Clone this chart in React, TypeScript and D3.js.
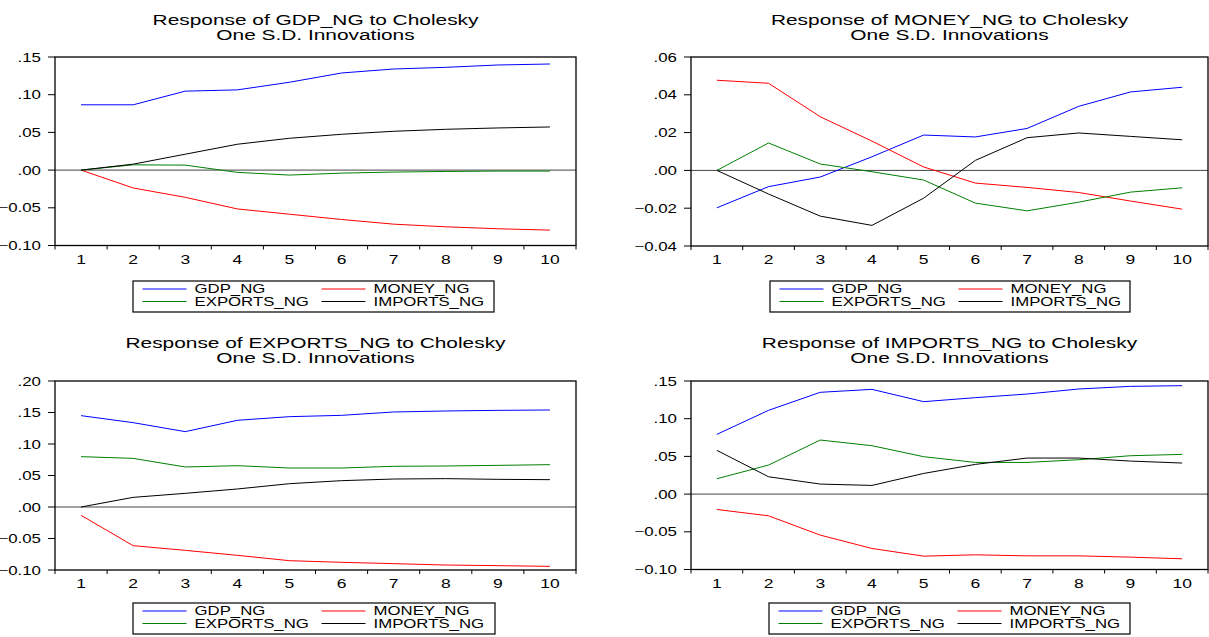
import React from "react";
import * as d3 from "d3";

// ---------- data ----------
const periods = [1, 2, 3, 4, 5, 6, 7, 8, 9, 10];
const seriesNames = ["GDP_NG", "MONEY_NG", "EXPORTS_NG", "IMPORTS_NG"];
const seriesColors = ["#0000ff", "#ff0000", "#008000", "#000000"];

// Response of GDP_NG
const gdpResp_GDP = [0.0866, 0.0866, 0.1047, 0.1064, 0.1165, 0.1288, 0.1341, 0.1363, 0.1394, 0.1407];
const gdpResp_MONEY = [0.0, -0.0237, -0.0361, -0.0515, -0.0585, -0.0655, -0.0717, -0.0752, -0.0778, -0.0796];
const gdpResp_EXPORTS = [0.0, 0.007, 0.0066, -0.003, -0.0066, -0.004, -0.0026, -0.0018, -0.0013, -0.0013];
const gdpResp_IMPORTS = [0.0, 0.0079, 0.0211, 0.0343, 0.0422, 0.0475, 0.0515, 0.0541, 0.0559, 0.0572];

// Response of MONEY_NG
const moneyResp_GDP = [-0.0198, -0.0086, -0.0035, 0.0072, 0.0187, 0.0177, 0.0222, 0.0339, 0.0415, 0.044];
const moneyResp_MONEY = [0.0477, 0.0461, 0.0284, 0.0155, 0.0018, -0.0067, -0.009, -0.0117, -0.0162, -0.0205];
const moneyResp_EXPORTS = [0.0, 0.0145, 0.0034, -0.0007, -0.0051, -0.0173, -0.0214, -0.0168, -0.0115, -0.0092];
const moneyResp_IMPORTS = [0.0, -0.0125, -0.0242, -0.0291, -0.0147, 0.0053, 0.0173, 0.0198, 0.018, 0.0162];

// Response of EXPORTS_NG
const exportsResp_GDP = [0.145, 0.1339, 0.1196, 0.1376, 0.1434, 0.1455, 0.1508, 0.1524, 0.1534, 0.154];
const exportsResp_MONEY = [-0.0132, -0.0614, -0.0688, -0.0767, -0.0852, -0.0878, -0.0899, -0.0921, -0.0931, -0.0942];
const exportsResp_EXPORTS = [0.0799, 0.0772, 0.0635, 0.0656, 0.0619, 0.0619, 0.0646, 0.0651, 0.0661, 0.0672];
const exportsResp_IMPORTS = [0.0, 0.0153, 0.0217, 0.0286, 0.037, 0.0418, 0.0444, 0.045, 0.0439, 0.0434];

// Response of IMPORTS_NG
const importsResp_GDP = [0.0792, 0.1111, 0.135, 0.1389, 0.1226, 0.1279, 0.1327, 0.1394, 0.1429, 0.1438];
const importsResp_MONEY = [-0.0204, -0.0288, -0.0544, -0.0721, -0.0823, -0.0805, -0.0819, -0.0819, -0.0836, -0.0858];
const importsResp_EXPORTS = [0.0204, 0.0385, 0.0717, 0.0642, 0.0496, 0.042, 0.042, 0.0456, 0.0509, 0.0527];
const importsResp_IMPORTS = [0.058, 0.023, 0.0133, 0.0115, 0.0274, 0.0394, 0.0478, 0.0478, 0.0438, 0.0412];

const ticksGDP = [-0.1, -0.05, 0, 0.05, 0.1, 0.15];
const ticksMONEY = [-0.04, -0.02, 0, 0.02, 0.04, 0.06];
const ticksEXPORTS = [-0.1, -0.05, 0, 0.05, 0.1, 0.15, 0.2];
const ticksIMPORTS = [-0.1, -0.05, 0, 0.05, 0.1, 0.15];

const titleLine2 = "One S.D. Innovations";

// ---------- layout ----------
const W = 1209;
const H = 637;
const FONT = "'Liberation Sans', Arial, Helvetica, sans-serif";
const SX = 1.4;

const panels = [
  {
    title: "Response of GDP_NG to Cholesky",
    series: [gdpResp_GDP, gdpResp_MONEY, gdpResp_EXPORTS, gdpResp_IMPORTS],
    ticks: ticksGDP,
    left: 55, right: 576, top: 57, bottom: 245.5,
    t1: 24.5, t2: 39.5,
    lg: { x: 133, y: 281, w: 361, h: 31 },
  },
  {
    title: "Response of MONEY_NG to Cholesky",
    series: [moneyResp_GDP, moneyResp_MONEY, moneyResp_EXPORTS, moneyResp_IMPORTS],
    ticks: ticksMONEY,
    left: 691, right: 1208, top: 57, bottom: 246,
    t1: 24.5, t2: 39.5,
    lg: { x: 770, y: 281, w: 360, h: 31 },
  },
  {
    title: "Response of EXPORTS_NG to Cholesky",
    series: [exportsResp_GDP, exportsResp_MONEY, exportsResp_EXPORTS, exportsResp_IMPORTS],
    ticks: ticksEXPORTS,
    left: 55, right: 576, top: 381, bottom: 570,
    t1: 348, t2: 363,
    lg: { x: 133, y: 603, w: 362, h: 31 },
  },
  {
    title: "Response of IMPORTS_NG to Cholesky",
    series: [importsResp_GDP, importsResp_MONEY, importsResp_EXPORTS, importsResp_IMPORTS],
    ticks: ticksIMPORTS,
    left: 691, right: 1208, top: 381, bottom: 569.5,
    t1: 348, t2: 363,
    lg: { x: 769, y: 603, w: 361, h: 31 },
  },
];

const fmtTick = (v: number) => {
  const s = d3.format(".2f")(v);
  return s.replace(/^(-?)0\./, "$1.");
};

function SText(props: { x: number; y: number; size: number; anchor?: string; children: any; sx?: number }) {
  const { x, y, size, anchor = "start", children, sx = SX } = props;
  return (
    <text
      transform={`translate(${x},${y}) scale(${sx},1)`}
      fontSize={size}
      fontFamily={FONT}
      textAnchor={anchor}
      fill="#000"
    >
      {children}
    </text>
  );
}

function Panel({ p }: { p: (typeof panels)[number] }) {
  const x = d3.scaleBand<number>().domain(periods).range([p.left, p.right]).padding(0);
  const [ymin, ymax] = d3.extent(p.ticks) as [number, number];
  const y = d3.scaleLinear().domain([ymin, ymax]).range([p.bottom, p.top]);
  const cx = (d: number) => (x(d) as number) + x.bandwidth() / 2;
  const line = d3
    .line<number>()
    .x((_, i) => cx(periods[i]))
    .y((d) => y(d));
  const mid = (p.left + p.right) / 2;
  const boundaries = periods.map((d) => x(d) as number).concat([p.right]);
  const lg = p.lg;
  const colX = [lg.x + 9.5, lg.x + 188.5];
  const rowY = [lg.y + 8, lg.y + 20.5];

  return (
    <g>
      <SText x={mid} y={p.t1} size={14.2} anchor="middle" sx={1.47}>{p.title}</SText>
      <SText x={mid} y={p.t2} size={14.2} anchor="middle" sx={1.47}>{titleLine2}</SText>

      {/* zero line */}
      <line x1={p.left} x2={p.right} y1={y(0)} y2={y(0)} stroke="#444" strokeWidth={1} />

      {/* series */}
      {p.series.map((s, i) => (
        <path key={i} d={line(s) as string} fill="none" stroke={seriesColors[i]} strokeWidth={1} />
      ))}

      {/* frame */}
      <rect x={p.left} y={p.top} width={p.right - p.left} height={p.bottom - p.top} fill="none" stroke="#000" strokeWidth={1.3} />

      {/* y ticks */}
      {p.ticks.map((t) => (
        <g key={t}>
          <line x1={p.left - 7} x2={p.left} y1={y(t)} y2={y(t)} stroke="#000" strokeWidth={1} />
          <SText x={p.left - 14} y={y(t) + 4.5} size={12.5} anchor="end" sx={1.35}>{fmtTick(t)}</SText>
        </g>
      ))}

      {/* x ticks */}
      {boundaries.map((b, i) => (
        <line key={i} x1={b} x2={b} y1={p.bottom} y2={p.bottom + 4} stroke="#000" strokeWidth={1} />
      ))}
      {periods.map((d) => (
        <SText key={d} x={cx(d)} y={p.bottom + 18} size={12.5} anchor="middle">{String(d)}</SText>
      ))}

      {/* legend */}
      <rect x={lg.x} y={lg.y} width={lg.w} height={lg.h} fill="#fff" stroke="#000" strokeWidth={1.2} />
      {seriesNames.map((name, i) => {
        const c = i % 2;
        const r = Math.floor(i / 2);
        return (
          <g key={name}>
            <line x1={colX[c]} x2={colX[c] + 44} y1={rowY[r]} y2={rowY[r]} stroke={seriesColors[i]} strokeWidth={1} />
            <SText x={colX[c] + 52} y={rowY[r] + 4.3} size={12}>{name}</SText>
          </g>
        );
      })}
    </g>
  );
}

export default function App() {
  return (
    <svg
      width={W}
      height={H}
      viewBox={`0 0 ${W} ${H}`}
      style={{ position: "absolute", left: 0, top: 0, background: "#fff", display: "block" }}
    >
      <rect x={0} y={0} width={W} height={H} fill="#fff" />
      {panels.map((p, i) => (
        <Panel key={i} p={p} />
      ))}
    </svg>
  );
}
